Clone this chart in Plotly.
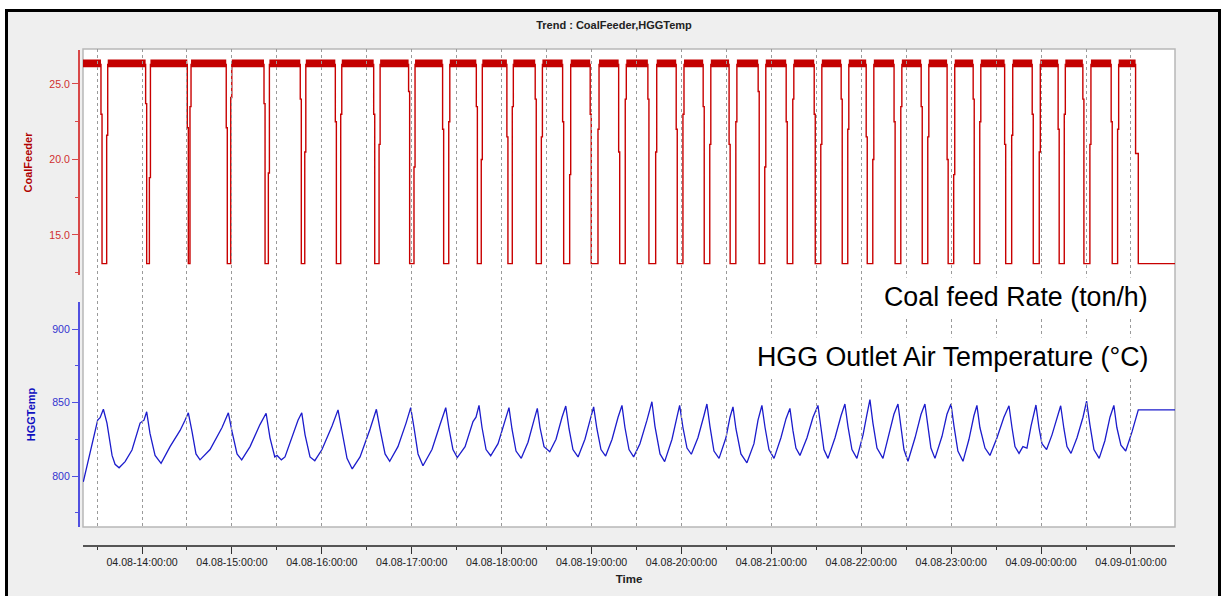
import pandas as pd
import plotly.graph_objects as go

# ---------------- data (minutes after 2023-04-08 13:00) ----------------
BASE = "2023-04-08 13:00:00"
x_range_min = [20.6, 749.4]

coal_high = 26.3
coal_low = 13.1
coal_noise_band = [26.1, 26.62]
coal_start_min = 20.6
dip_start = [33.3, 63.1, 90.9, 116.9, 142.1, 166.3, 189.7, 215.3, 238.6, 261.3,
             283.8, 304.2, 323.1, 341.4, 359.8, 378.8, 398.3, 417.2, 435.2, 452.5,
             471.9, 490.6, 509.3, 527.3, 544.0, 562.6, 580.7, 598.0, 615.4, 636.4,
             654.8, 672.1, 688.6, 707.5]
dip_end = [36.4, 64.9, 92.0, 119.2, 144.3, 168.6, 192.6, 218.2, 241.5, 264.7,
           286.4, 307.1, 326.5, 345.4, 364.3, 382.5, 402.8, 421.0, 438.9, 456.3,
           475.6, 494.3, 513.0, 531.0, 547.7, 566.4, 584.4, 601.7, 619.1, 640.4,
           658.8, 675.5, 692.6, 711.1]
dip_fall_mid = [23.0, 23.7, 22.1, 22.1, 23.7, 24.0, 22.5, 23.0, 24.5, 22.0,
                23.5, 21.5, 24.0, 22.5, 23.0, 20.5, 24.0, 22.0, 23.5, 21.0,
                24.5, 22.5, 23.0, 24.0, 21.5, 22.5, 23.5, 20.0, 24.0, 21.0,
                23.0, 22.0, 24.0, 22.5]
dip_rise_mid = [21.6, 18.8, 23.5, 24.1, 19.1, 20.5, 23.0, 21.0, 19.5, 22.5,
                20.0, 23.5, 21.5, 19.0, 22.0, 24.0, 20.5, 23.0, 21.0, 22.5,
                19.5, 24.0, 21.0, 22.0, 20.0, 23.5, 21.5, 19.0, 22.5, 21.6,
                20.5, 23.0, 21.0, 22.0]
final_fall_min = 723.1
final_fall_mid = 20.4
final_low_min = 724.9
coal_end_min = 749.4

hgg_min = [20.8, 25.3, 30.4, 32.0, 34.2, 36.6, 40.0, 42.0, 44.7, 48.7, 53.3, 58.7, 61.3, 63.1,
           65.3, 68.7, 72.7, 78.7, 85.4, 88.7, 90.9, 93.4, 96.0, 98.7, 105.4, 113.4, 117.6,
           120.1, 123.4, 126.5, 132.1, 138.7, 142.8, 145.4, 148.6, 150.1, 153.0, 155.4, 160.1,
           164.1, 166.6, 168.8, 172.1, 175.3, 180.1, 186.8, 190.8, 193.5, 196.8, 200.3, 205.5,
           212.2, 216.4, 218.8, 222.2, 225.3, 230.8, 236.2, 239.3, 241.5, 244.2, 247.5, 253.5,
           258.9, 262.7, 264.9, 267.5, 270.4, 275.6, 280.9, 282.9, 284.9, 286.9, 289.6, 292.7,
           297.6, 302.2, 304.9, 306.9, 309.6, 313.1, 317.6, 321.6, 323.8, 325.6, 328.3, 332.1,
           336.3, 340.3, 342.8, 345.0, 347.6, 351.0, 355.6, 359.0, 361.4, 363.6, 366.3, 369.4,
           373.7, 377.7, 380.3, 382.3, 385.0, 388.1, 392.3, 397.0, 400.3, 402.3, 405.7, 408.8,
           413.7, 417.0, 418.8, 421.0, 423.7, 426.6, 431.0, 435.0, 437.0, 439.0, 441.7, 445.1,
           449.7, 452.4, 454.4, 456.4, 459.7, 463.7, 468.4, 471.1, 473.7, 475.8, 478.4, 481.8,
           486.4, 489.8, 492.4, 494.4, 496.4, 499.1, 503.8, 507.8, 511.1, 513.1, 515.1, 517.8,
           522.5, 526.5, 529.1, 531.1, 533.8, 537.1, 541.2, 543.8, 545.8, 547.8, 550.5, 554.5,
           558.5, 561.8, 564.5, 566.5, 568.5, 571.2, 575.9, 579.9, 582.5, 584.5, 586.5, 589.2,
           593.9, 597.2, 599.9, 601.9, 604.5, 607.9, 611.9, 615.2, 617.2, 619.2, 622.6, 625.9,
           630.6, 635.2, 638.6, 640.6, 642.6, 645.3, 647.9, 650.6, 653.3, 656.6, 658.6, 660.6,
           663.7, 667.3, 670.6, 673.1, 675.3, 677.3, 680.0, 684.0, 688.0, 690.4, 692.6, 695.3,
           698.8, 702.6, 706.0, 708.6, 710.6, 713.3, 716.5, 720.7, 724.9, 749.4]
hgg_val = [796, 815.6, 838, 839.7, 845.4, 836, 814, 808, 805.6, 809.8, 817.7, 836, 838, 843.7,
           829, 814, 808.6, 820, 831, 838, 843, 830, 815, 811, 818, 833, 843,
           830, 815, 811, 820, 835, 842.7, 826, 813, 814, 811, 813, 826,
           838, 843, 828, 813, 810.4, 818, 834, 845, 830, 812, 804.8, 813,
           832, 845.4, 832, 815, 810, 820, 836, 846.5, 833, 815, 807, 818,
           835, 846.5, 832, 818, 812.5, 820, 837, 840, 848, 833, 818, 813.8,
           822, 838, 846.5, 832, 817, 812, 823, 838, 846, 833, 820, 816.5,
           825, 840, 847.6, 832, 818, 813, 825, 838, 847, 832, 818, 813.6,
           825, 840, 848, 833, 818, 813, 822, 838, 850.5, 834, 815, 809.8,
           825, 840, 848, 833, 819, 814.8, 826, 841, 849, 834, 817, 812,
           826, 840, 847, 832, 815, 809, 822, 838, 848, 833, 818, 812,
           826, 839, 846, 831, 819, 814, 826, 840, 848, 833, 818, 812,
           826, 841, 849, 834, 818, 812, 828, 842, 852, 836, 819, 812,
           828, 842, 849, 834, 818, 810, 826, 842, 849, 834, 819, 812,
           827, 842, 849, 834, 817, 810, 825, 841, 848, 833, 819, 814,
           826, 840, 847.8, 833, 820, 815.4, 820, 819, 834, 848.3, 833, 822,
           818, 828, 840, 847.8, 832, 820, 815.4, 826, 840, 851, 835, 818,
           812, 824, 840, 848, 833, 821, 817, 830, 845, 845]

x_tick_hours = 60      # major tick every hour
x_minor_minutes = 30   # minor tick / grid every 30 min

# ---------------- build series ----------------
base = pd.Timestamp(BASE)
def to_time(m):
    return base + pd.to_timedelta(m, unit="m")

TRANS = 0.7
coal_t = [coal_start_min]
coal_v = [coal_high]
for s, e, fm, rm in zip(dip_start, dip_end, dip_fall_mid, dip_rise_mid):
    coal_t += [s - TRANS, s, e, e + TRANS]
    coal_v += [fm, coal_low, rm, coal_high]
coal_t += [final_fall_min, final_low_min, coal_end_min]
coal_v += [final_fall_mid, coal_low, coal_low]

# noise band over the high periods
high_starts = [coal_start_min] + [e + TRANS for e in dip_end]
high_ends = [s - TRANS for s in dip_start] + [final_fall_min]
band_t, band_v = [], []
lo, hi = coal_noise_band
for a, b in zip(high_starts, high_ends):
    band_t += [to_time(a), to_time(b), to_time(b), to_time(a), to_time(a), None]
    band_v += [lo, lo, hi, hi, lo, None]

fig = go.Figure()
fig.add_trace(go.Scatter(x=[to_time(m) for m in coal_t], y=coal_v, mode="lines",
                         line=dict(color="#c80000", width=1.4, shape="hv"),
                         xaxis="x", yaxis="y", hoverinfo="skip", showlegend=False))
fig.add_trace(go.Scatter(x=band_t, y=band_v, mode="lines", fill="toself",
                         fillcolor="#c40000", line=dict(width=0, color="#c40000"),
                         xaxis="x", yaxis="y", hoverinfo="skip", showlegend=False))
fig.add_trace(go.Scatter(x=[to_time(m) for m in hgg_min], y=hgg_val, mode="lines",
                         line=dict(color="#1c1ccc", width=1.3),
                         xaxis="x", yaxis="y2", hoverinfo="skip", showlegend=False))
fig.add_trace(go.Scatter(x=[], y=[], xaxis="x2", yaxis="y3", showlegend=False))

# ---------------- layout ----------------
W, H = 1221, 596
ML, MR, MT, MB = 79, 46, 49, 50
PW, PH = W - ML - MR, H - MT - MB
def px_x(p):
    return (p - ML) / PW
def px_y(p):
    return (H - MB - p) / PH

xr = [to_time(x_range_min[0]), to_time(x_range_min[1])]
FONT = "Liberation Sans, Arial, sans-serif"

fig.update_layout(
    width=W, height=H,
    margin=dict(l=ML, r=MR, t=MT, b=MB),
    paper_bgcolor="white", plot_bgcolor="rgba(0,0,0,0)",
    font=dict(family=FONT, size=10.6, color="#222"),
    title=dict(text="<b>Trend : CoalFeeder,HGGTemp</b>", xref="paper", x=px_x(614),
               xanchor="center", yref="container", y=1 - 25 / H, yanchor="middle",
               font=dict(size=11, color="#222", family=FONT)),
    xaxis=dict(domain=[px_x(83), 1], anchor="free", position=0, range=xr,
               type="date", tick0="2023-04-08 00:00:00", dtick=x_tick_hours * 60000,
               tickformat="%m.%d-%H:%M:%S", showgrid=False, zeroline=False,
               showline=True, linecolor="#555", linewidth=1.5,
               ticks="outside", ticklen=7, tickwidth=1, tickcolor="#333",
               tickfont=dict(size=10.6, color="#222"),
               minor=dict(dtick=x_minor_minutes * 60000, ticks="outside", ticklen=3,
                          tickcolor="#333", showgrid=False),
               title=dict(text="<b>Time</b>", standoff=6,
                          font=dict(size=11.5, color="#222"))),
    xaxis2=dict(domain=[px_x(83), 1], anchor="y3", range=xr, type="date",
                tick0="2023-04-08 13:30:00", dtick=x_minor_minutes * 60000,
                showgrid=True, gridcolor="#9a9a9a", gridwidth=1, griddash="3px,3px",
                showticklabels=False, ticks="", showline=False, zeroline=False),
    yaxis=dict(domain=[px_y(275), px_y(50)], anchor="free", position=0,
               range=[12.35, 27.25], tick0=0, dtick=5, tickformat=".1f",
               showgrid=False, zeroline=False, showline=True, linecolor="#d84848",
               linewidth=2, ticks="outside", ticklen=6, tickcolor="#d84848",
               tickfont=dict(size=10.6, color="#d03030"),
               minor=dict(dtick=2.5, ticks="outside", ticklen=3, tickcolor="#d84848",
                          showgrid=False),
               title=dict(text="<b>CoalFeeder</b>", standoff=13,
                          font=dict(size=11, color="#b00000"))),
    yaxis2=dict(domain=[px_y(527), px_y(302)], anchor="free", position=0,
                range=[765.3, 918.4], tick0=0, dtick=50,
                showgrid=False, zeroline=False, showline=True, linecolor="#5050e0",
                linewidth=2, ticks="outside", ticklen=6, tickcolor="#5050e0",
                tickfont=dict(size=10.6, color="#3434d0"),
                minor=dict(dtick=25, ticks="outside", ticklen=3, tickcolor="#5050e0",
                           showgrid=False),
                title=dict(text="<b>HGGTemp</b>", standoff=13,
                           font=dict(size=11, color="#1010c0"))),
    yaxis3=dict(domain=[px_y(527), px_y(49)], anchor="x2", range=[0, 1],
                visible=False, showgrid=False, zeroline=False),
    shapes=[
        dict(type="rect", xref="paper", yref="paper", layer="below",
             x0=px_x(6.5), x1=px_x(1219.5), y0=px_y(640), y1=px_y(10.5),
             fillcolor="#efefef", line=dict(color="black", width=3)),
        dict(type="rect", xref="paper", yref="paper", layer="below",
             x0=px_x(83), x1=1, y0=px_y(527), y1=1,
             fillcolor="white", line=dict(color="#b8b8b8", width=1.5)),
    ],
    annotations=[
        dict(text="Coal feed Rate (ton/h)", xref="paper", yref="paper",
             x=px_x(1153), y=px_y(297), xanchor="right", yanchor="middle",
             showarrow=False, bgcolor="white", borderpad=4,
             font=dict(size=26.8, color="black", family=FONT)),
        dict(text="HGG Outlet Air Temperature (°C)", xref="paper", yref="paper",
             x=px_x(1153), y=px_y(357), xanchor="right", yanchor="middle",
             showarrow=False, bgcolor="white", borderpad=4,
             font=dict(size=26.8, color="black", family=FONT)),
    ],
)

fig.write_html("out.html", config={"displayModeBar": False},
               post_script="document.body.style.margin='0';document.body.style.overflow='hidden';")
